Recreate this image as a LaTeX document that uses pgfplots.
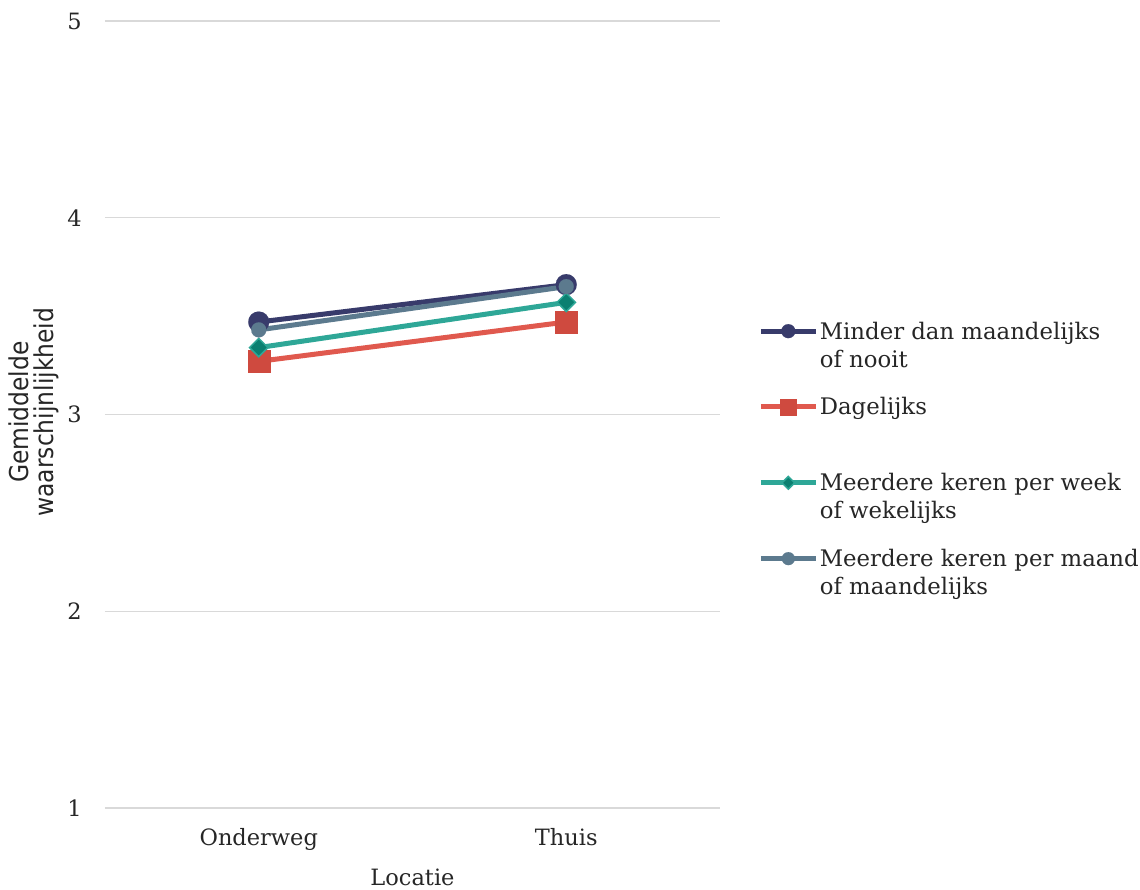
\documentclass[border=0pt]{standalone}
\usepackage{fontspec}
\setmainfont{DejaVu Serif}
\newfontfamily\condfont{DejaVu Sans Condensed}
\usepackage{pgfplots}
\pgfplotsset{compat=1.18}
\definecolor{cnavy}{HTML}{383B6B}
\definecolor{cred}{HTML}{E0594E}
\definecolor{credm}{HTML}{CF4A3F}
\definecolor{cteal}{HTML}{2EA797}
\definecolor{ctealm}{HTML}{0B8071}
\definecolor{cslate}{HTML}{5C7A8E}
\definecolor{cgrid}{HTML}{D9D9D9}
\begin{document}
\begin{tikzpicture}
\useasboundingbox (-105pt,-82pt) rectangle (1035pt,808pt);
\begin{axis}[
  at={(0pt,0pt)}, anchor=south west,
  scale only axis, width=615pt, height=787pt,
  xmin=-0.5, xmax=1.5, ymin=1, ymax=5,
  xtick={0,1}, xticklabels={Onderweg,Thuis},
  ytick={1,2,3,4,5},
  axis line style={draw=none}, major tick length=0pt,
  ymajorgrids, grid style={draw=cgrid, line width=1.2pt},
  /pgf/number format/assume math mode=true,
  ticklabel style={font=\fontsize{22.5}{26}\selectfont, text=black!85},
  yticklabel style={anchor=east, inner sep=0pt, xshift=-23pt},
  xticklabel style={anchor=north, inner sep=0pt, yshift=-20pt},
  xlabel={Locatie},
  xlabel style={at={(axis description cs:0.5,0)}, anchor=center, yshift=-69pt, font=\fontsize{22.5}{26}\selectfont, text=black!85},
  ylabel={Gemiddelde\\waarschijnlijkheid},
  ylabel style={at={(axis description cs:-0.116,0.503)}, anchor=center, align=center, font=\condfont\fontsize{26}{25}\selectfont, text=black!85},
  legend style={at={(1.062,0.62)}, anchor=north west, draw=none, fill=none, inner sep=0pt,
    font=\fontsize{22.8}{28}\selectfont, text=black!85,
    nodes={align=left, inner sep=1.5pt}, row sep=26pt, column sep=0pt},
  legend cell align=left,
  legend image code/.code={\draw[mark repeat=2,mark phase=2,yshift=14pt,#1] plot coordinates {(0pt,0pt) (27.5pt,0pt) (55pt,0pt)};},
]
\addplot[cnavy, line width=5pt, mark=*, mark size=10.5pt, mark options={line width=0.1pt, draw=cnavy, fill=cnavy},
  legend image post style={mark size=7pt}] coordinates {(0,3.47) (1,3.66)};
\addlegendentry{Minder dan maandelijks\\of nooit}
\addplot[cred, line width=5pt, mark=square*, mark size=11pt, mark options={line width=0.1pt, draw=credm, fill=credm},
  legend image post style={mark size=8pt}] coordinates {(0,3.27) (1,3.47)};
\addlegendentry{Dagelijks\\\mbox{}}
\addplot[cteal, line width=5pt, mark=square*, mark size=6.5pt, mark options={rotate=45, draw=cteal, line width=1.5pt, fill=ctealm},
  legend image post style={mark size=4.5pt}] coordinates {(0,3.34) (1,3.57)};
\addlegendentry{Meerdere keren per week\\of wekelijks}
\addplot[cslate, line width=5pt, mark=*, mark size=7.5pt, mark options={line width=0.1pt, draw=cslate, fill=cslate},
  legend image post style={mark size=6.5pt}] coordinates {(0,3.43) (1,3.65)};
\addlegendentry{Meerdere keren per maand\\of maandelijks}
\end{axis}
\end{tikzpicture}
\end{document}
